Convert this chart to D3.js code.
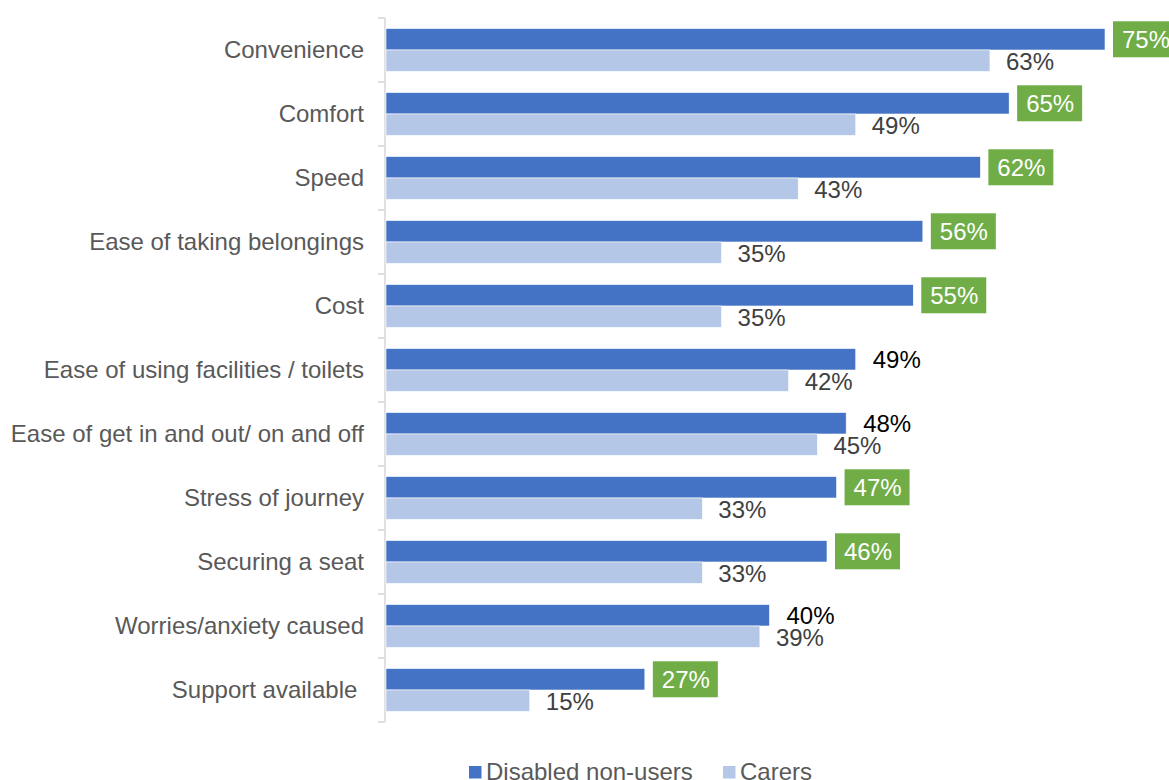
<!DOCTYPE html>
<html>
<head>
<meta charset="utf-8">
<script src="https://cdn.jsdelivr.net/npm/d3@7/dist/d3.min.js"></script>
<style>
  html, body { margin: 0; padding: 0; background: #fff; }
  svg { display: block; font-family: Arial, "Liberation Sans", sans-serif; }
</style>
</head>
<body>
<svg id="chart" width="1169" height="780"></svg>
<script>
// Reasons for choosing a mode of travel
const categories = [
  "Convenience", "Comfort", "Speed", "Ease of taking belongings", "Cost",
  "Ease of using facilities / toilets", "Ease of get in and out/ on and off",
  "Stress of journey", "Securing a seat", "Worries/anxiety caused", "Support available "
];
const disabledNonUsers = [75, 65, 62, 56, 55, 49, 48, 47, 46, 40, 27];
const carers = [63, 49, 43, 35, 35, 42, 45, 33, 33, 39, 15];
// Differences flagged as significant get a highlighted label
const significant = [true, true, true, true, true, false, false, true, true, false, true];
const seriesNames = ["Disabled non-users", "Carers"];

const colors = { dark: "#4472C4", light: "#B4C7E7", flag: "#70AD47" };
const fontSize = 24;

const svg = d3.select("#chart");

const x = d3.scaleLinear().domain([0, 75]).range([386, 1105]);
const y = d3.scaleBand().domain(categories).range([18, 722])
  .paddingInner(0.33).paddingOuter(0.165);
const ySub = d3.scaleBand().domain(seriesNames).range([0, y.bandwidth()]);

// Category axis: light grey line with ticks between categories
const axisX = 385;
svg.append("line")
  .attr("x1", axisX).attr("x2", axisX)
  .attr("y1", 18).attr("y2", 722)
  .attr("stroke", "#d9d9d9").attr("stroke-width", 1.6);
const boundaries = d3.range(categories.length + 1).map(i => 18 + i * y.step());
svg.selectAll("line.tick").data(boundaries).join("line")
  .attr("class", "tick")
  .attr("x1", axisX - 7).attr("x2", axisX)
  .attr("y1", d => d).attr("y2", d => d)
  .attr("stroke", "#d9d9d9").attr("stroke-width", 1.6);

svg.selectAll("text.cat").data(categories).join("text")
  .attr("class", "cat")
  .attr("x", 364)
  .attr("y", d => y(d) + y.bandwidth() / 2)
  .attr("dy", "0.35em")
  .attr("text-anchor", "end")
  .attr("fill", "#595959")
  .style("font-size", fontSize + "px")
  .style("white-space", "pre")
  .text(d => d);

const rows = categories.map((c, i) => ({ c, dn: disabledNonUsers[i], ca: carers[i], sig: significant[i] }));

const g = svg.selectAll("g.row").data(rows).join("g")
  .attr("class", "row")
  .attr("transform", d => `translate(0,${y(d.c)})`);

// Bars
g.append("rect")
  .attr("x", x(0)).attr("y", ySub(seriesNames[0]))
  .attr("width", d => x(d.dn) - x(0)).attr("height", ySub.bandwidth())
  .attr("fill", colors.dark).attr("stroke", "#fff").attr("stroke-width", 0.6);
g.append("rect")
  .attr("x", x(0)).attr("y", ySub(seriesNames[1]))
  .attr("width", d => x(d.ca) - x(0)).attr("height", ySub.bandwidth())
  .attr("fill", colors.light).attr("stroke", "#fff").attr("stroke-width", 0.6);

// Disabled non-users labels
const c0 = ySub(seriesNames[0]) + ySub.bandwidth() / 2;
g.filter(d => d.sig).append("rect")
  .attr("x", d => x(d.dn) + 8).attr("y", c0 - 18)
  .attr("width", 65).attr("height", 36)
  .attr("fill", colors.flag);
g.append("text")
  .attr("x", d => x(d.dn) + 17).attr("y", c0)
  .attr("dy", "0.35em")
  .attr("fill", d => d.sig ? "#fff" : "#000")
  .style("font-size", fontSize + "px")
  .text(d => d.dn + "%");

// Carers labels
const c1 = ySub(seriesNames[1]) + ySub.bandwidth() / 2;
g.append("text")
  .attr("x", d => x(d.ca) + 16).attr("y", c1 + 0.5)
  .attr("dy", "0.35em")
  .attr("fill", "#404040")
  .style("font-size", fontSize + "px")
  .text(d => d.ca + "%");

// Legend
const legend = [
  { name: seriesNames[0], color: colors.dark, x: 469 },
  { name: seriesNames[1], color: colors.light, x: 723 }
];
const lg = svg.selectAll("g.legend").data(legend).join("g")
  .attr("class", "legend")
  .attr("transform", d => `translate(${d.x},766)`);
lg.append("rect").attr("width", 12.5).attr("height", 12.5).attr("fill", d => d.color);
lg.append("text")
  .attr("x", 17).attr("y", 6).attr("dy", "0.35em")
  .attr("fill", "#595959")
  .style("font-size", fontSize + "px")
  .text(d => d.name);
</script>
</body>
</html>
